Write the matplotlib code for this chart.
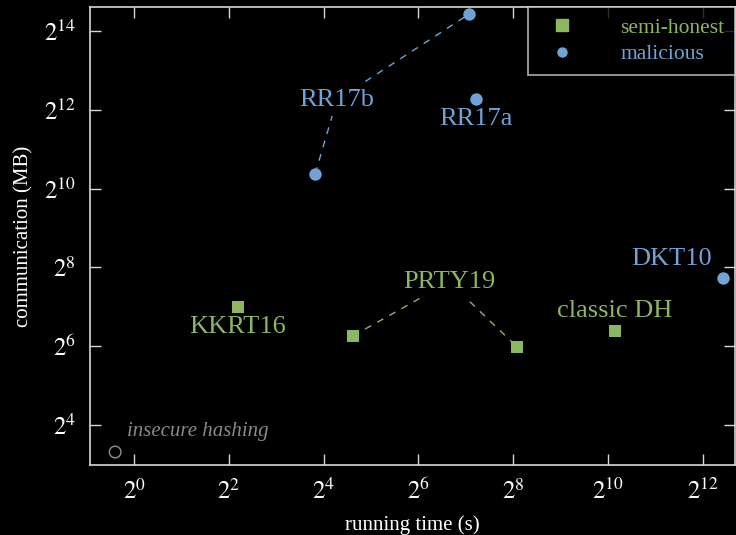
import numpy as np
import matplotlib
matplotlib.use("Agg")
import matplotlib.pyplot as plt
from matplotlib.lines import Line2D

plt.rcParams['font.family'] = ['Liberation Serif', 'DejaVu Serif']
plt.rcParams['mathtext.fontset'] = 'stix'

# log2 of running time (s) and communication (MB)
semi_names = ["KKRT16", "PRTY19", "PRTY19", "classic DH"]
semi_time = [2.19, 4.62, 8.08, 10.15]
semi_comm = [7.0, 6.26, 5.98, 6.39]

mal_names = ["RR17b", "RR17b", "RR17a", "DKT10"]
mal_time = [3.82, 7.07, 7.21, 12.43]
mal_comm = [10.37, 14.43, 12.28, 7.73]

insecure_time = [-0.4]
insecure_comm = [3.31]

x_ticks = [0, 2, 4, 6, 8, 10, 12]
y_ticks = [4, 6, 8, 10, 12, 14]

green = '#8cb660'
blue = '#6fa3d6'
fg = '#d8d8d8'

fig = plt.figure(figsize=(7.36, 5.35), dpi=100, facecolor='black')
ax = fig.add_axes([0.1223, 0.1308, 0.8763, 0.8561], facecolor='black')

ax.set_xscale('log', base=2)
ax.set_yscale('log', base=2)
ax.set_xlim(2 ** -0.93, 2 ** 12.68)
ax.set_ylim(2 ** 2.98, 2 ** 14.61)

sx = 2.0 ** np.array(semi_time)
sy = 2.0 ** np.array(semi_comm)
mx = 2.0 ** np.array(mal_time)
my = 2.0 ** np.array(mal_comm)

# dashed connectors running through the labels
prty_mid = (2 ** 6.65, 2 ** 7.63)
rr_mid = (2 ** 4.28, 2 ** 12.25)
ax.plot([sx[1], prty_mid[0], sx[2]], [sy[1], prty_mid[1], sy[2]],
        ls=(0, (5, 5)), lw=1, color=green, zorder=1)
ax.plot([mx[0], rr_mid[0], mx[1]], [my[0], rr_mid[1], my[1]],
        ls=(0, (5, 5)), lw=1, color=blue, zorder=1)

ax.scatter(sx, sy, marker='s', s=80, color=green, zorder=3, linewidths=0)
ax.scatter(mx, my, marker='o', s=80, color=blue, zorder=3, linewidths=0)
ax.scatter(2.0 ** np.array(insecure_time), 2.0 ** np.array(insecure_comm),
           marker='o', s=70, facecolor='none', edgecolor='#909090', lw=1, zorder=3)

lab = dict(fontsize=19, ha='center', va='center', zorder=2)
box = dict(facecolor='black', edgecolor='none', pad=4)
ax.text(sx[0], 2 ** 6.49, semi_names[0], color=green, **lab)
ax.text(prty_mid[0], prty_mid[1], semi_names[1], color=green, bbox=box, **lab)
ax.text(sx[3], 2 ** 6.88, semi_names[3], color=green, **lab)
ax.text(rr_mid[0], rr_mid[1], mal_names[0], color=blue, bbox=box, **lab)
ax.text(mx[2], 2 ** 11.77, mal_names[2], color=blue, **lab)
ax.text(2 ** 11.35, 2 ** 8.22, mal_names[3], color=blue, **lab)
ax.text(2 ** -0.15, 2 ** 3.83, "insecure hashing", color='#8a8a8a',
        fontsize=15, style='italic', ha='left', va='center')

ax.set_xticks([2.0 ** t for t in x_ticks])
ax.set_xticklabels([r'$2^{%d}$' % t for t in x_ticks])
ax.set_yticks([2.0 ** t for t in y_ticks])
ax.set_yticklabels([r'$2^{%d}$' % t for t in y_ticks])
ax.minorticks_off()
ax.tick_params(direction='in', top=True, right=True, length=8, width=1,
               color=fg, labelcolor='white', labelsize=18, pad=10)
for sp in ax.spines.values():
    sp.set_color(fg)
    sp.set_linewidth(1.2)

ax.set_xlabel("running time (s)", color='white', fontsize=15, labelpad=8)
ax.set_ylabel("communication (MB)", color='white', fontsize=15, labelpad=8)

handles = [
    Line2D([], [], marker='s', ls='none', color=green, markersize=9),
    Line2D([], [], marker='o', ls='none', color=blue, markersize=6.5),
]
leg = ax.legend(handles, ["semi-honest", "malicious"], loc='upper right',
                fontsize=15.5, frameon=True, fancybox=False, facecolor='black',
                edgecolor=fg, borderaxespad=0, handletextpad=1.6,
                borderpad=0.5, labelspacing=0.3, handlelength=2.2)
leg.get_frame().set_linewidth(1.2)
for t, c in zip(leg.get_texts(), [green, blue]):
    t.set_color(c)

fig.savefig("out.png", dpi=100, facecolor='black')
